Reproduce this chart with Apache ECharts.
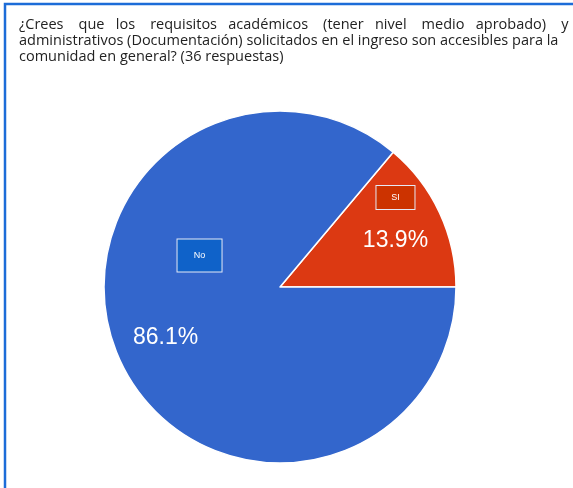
<!DOCTYPE html>
<html>
<head>
<meta charset="utf-8">
<script src="https://cdn.jsdelivr.net/npm/echarts@6/dist/echarts.min.js"></script>
<style>
  html, body { margin: 0; padding: 0; background: #fff; }
  #chart { width: 573px; height: 488px; }
</style>
</head>
<body>
<div id="chart"></div>
<script>
// respuestas: 36 en total
const categories = ['SI', 'No'];
const responses = [5, 31];
const sliceColors = ['#dc3912', '#3366cc'];
const boxColors = ['#cc3300', '#0f62c9'];

const titleLines = [
  '¿Crees    que   los    requisitos   académicos    (tener   nivel    medio   aprobado)    y',
  'administrativos (Documentación) solicitados en el ingreso son accesibles para la',
  'comunidad en general? (36 respuestas)'
];

const chart = echarts.init(document.getElementById('chart'));

// offsets de las etiquetas respecto a la posicion "inside"
const pctOffsets = [[33, -8], [-32, 12]];
const boxOffsets = [[33, -51], [2, -70]];
const boxSizes = [[38, 23], [44, 32]];

const pieCenter = [280, 287];
const pieRadius = 176;

const option = {
  backgroundColor: '#fff',
  animation: false,
  title: {
    text: titleLines.join('\n'),
    left: 14,
    top: 12,
    textStyle: {
      fontFamily: 'Open Sans',
      fontSize: 14.5,
      lineHeight: 16,
      fontWeight: 'normal',
      color: '#222'
    }
  },
  graphic: [{
    type: 'rect',
    shape: { x: 5, y: 4, width: 600, height: 600 },
    style: { fill: 'none', stroke: '#1c6cd8', lineWidth: 2.5 },
    silent: true
  }],
  series: [
    {
      type: 'pie',
      center: pieCenter,
      radius: pieRadius,
      startAngle: 50,
      clockwise: true,
      avoidLabelOverlap: false,
      percentPrecision: 1,
      silent: true,
      labelLine: { show: false },
      itemStyle: { borderColor: '#fff', borderWidth: 1.5 },
      label: {
        show: true,
        position: 'inside',
        formatter: '{d}%',
        color: '#fff',
        fontFamily: 'Liberation Sans',
        fontSize: 23
      },
      data: categories.map((name, i) => ({
        name: name,
        value: responses[i],
        itemStyle: { color: sliceColors[i] },
        label: { offset: pctOffsets[i] }
      }))
    },
    {
      type: 'pie',
      center: pieCenter,
      radius: pieRadius,
      startAngle: 50,
      clockwise: true,
      avoidLabelOverlap: false,
      silent: true,
      labelLine: { show: false },
      itemStyle: { color: 'transparent', borderWidth: 0 },
      data: categories.map((name, i) => ({
        name: name,
        value: responses[i],
        label: {
          show: true,
          position: 'inside',
          offset: boxOffsets[i],
          formatter: '{b}',
          color: '#fff',
          fontFamily: 'Liberation Sans',
          fontSize: 9,
          backgroundColor: boxColors[i],
          borderColor: '#e6e9f5',
          borderWidth: 1,
          width: boxSizes[i][0],
          height: boxSizes[i][1],
          align: 'center',
          verticalAlign: 'middle',
          lineHeight: boxSizes[i][1]
        }
      }))
    }
  ]
};

chart.setOption(option);
</script>
</body>
</html>
